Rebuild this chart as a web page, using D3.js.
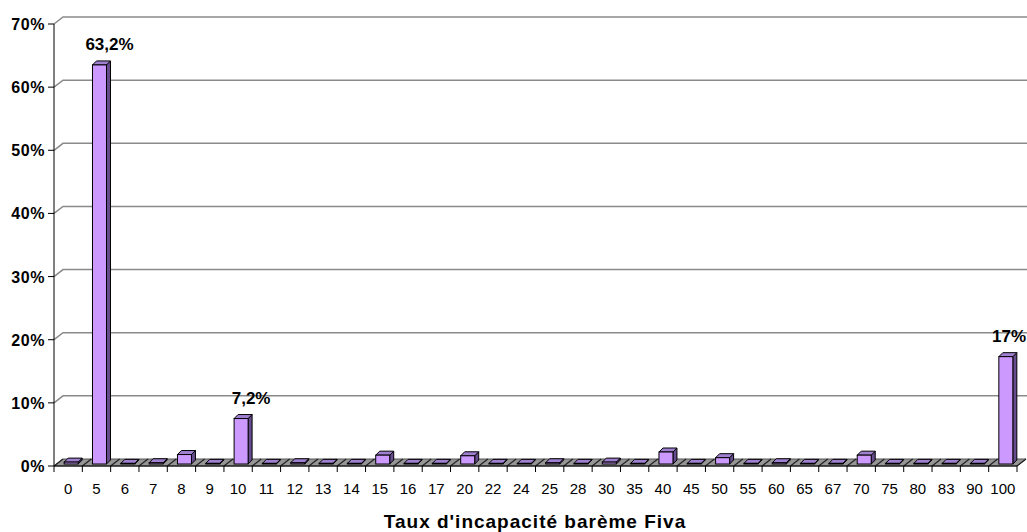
<!DOCTYPE html>
<html>
<head>
<meta charset="utf-8">
<script src="https://cdn.jsdelivr.net/npm/d3@7"></script>
<style>
  html, body { margin: 0; padding: 0; background: #fff; }
  svg { display: block; font-family: "Liberation Sans", Arial, sans-serif; }
</style>
</head>
<body>
<svg id="chart" width="1027" height="532"></svg>
<script>
// ---- data ----
const categories = ["0","5","6","7","8","9","10","11","12","13","14","15","16","17","20","22","24","25","28","30","35","40","45","50","55","60","65","67","70","75","80","83","90","100"];
const values =     [0.3, 63.2, 0.1, 0.2, 1.5, 0.1, 7.2, 0.1, 0.2, 0.1, 0.1, 1.4, 0.1, 0.1, 1.3, 0.1, 0.1, 0.2, 0.1, 0.3, 0.1, 1.9, 0.1, 1.0, 0.1, 0.2, 0.1, 0.1, 1.4, 0.1, 0.1, 0.1, 0.1, 17];
const labelled = { "5": "63,2%", "10": "7,2%", "100": "17%" };
const yTicks = [0, 10, 20, 30, 40, 50, 60, 70];
const xTitle = "Taux d'incapacité barème Fiva";

// ---- layout ----
const svg = d3.select("#chart");
const X0 = 54, X1 = 1017, Y0 = 466, Y1 = 24;
const DX = 9, DY = -7;        // wall/floor depth
const BDX = 4, BDY = -4;      // bar depth
const x = d3.scaleBand().domain(categories).range([X0, X1]).padding(0);
const y = d3.scaleLinear().domain([0, 70]).range([Y0, Y1]);

// gridlines (back wall)
const grid = svg.append("g");
yTicks.filter(t => t > 0).forEach(t => {
  grid.append("path")
    .attr("d", `M${X0},${y(t)} L${X0 + DX},${y(t) + DY} L1027,${y(t) + DY}`)
    .attr("fill", "none").attr("stroke", "#8a8a8a").attr("stroke-width", 1.5);
});

// floor
svg.append("path")
  .attr("d", `M${X0},${Y0} L${X1},${Y0} L${X1 + DX},${Y0 + DY} L${X0 + DX},${Y0 + DY} Z`)
  .attr("fill", "#969696").attr("stroke", "#555").attr("stroke-width", 1);

// floor diagonals at category boundaries
const bounds = categories.map(c => x(c)).concat([X1]);
svg.append("g").selectAll("line").data(bounds).join("line")
  .attr("x1", d => d).attr("y1", Y0).attr("x2", d => d + DX).attr("y2", Y0 + DY)
  .attr("stroke", "#222").attr("stroke-width", 1.2);

// bars
const bw = 14;
const bars = svg.append("g");
categories.forEach((c, i) => {
  const v = values[i];
  const cx = x(c) + x.bandwidth() / 2 + 3;
  const l = cx - bw / 2, r = cx + bw / 2;
  const b = Y0 - 2, t = Math.min(y(v) - 2, b - 0.6);
  bars.append("path")
    .attr("d", `M${r},${b} L${r + BDX},${b + BDY} L${r + BDX},${t + BDY} L${r},${t} Z`)
    .attr("fill", "#664c8c").attr("stroke", "#000").attr("stroke-width", 1).attr("stroke-linejoin", "round");
  bars.append("path")
    .attr("d", `M${l},${t} L${l + BDX},${t + BDY} L${r + BDX},${t + BDY} L${r},${t} Z`)
    .attr("fill", "#9f7fd0").attr("stroke", "#000").attr("stroke-width", 1).attr("stroke-linejoin", "round");
  bars.append("rect")
    .attr("x", l).attr("y", t).attr("width", bw).attr("height", b - t)
    .attr("fill", "#cc99ff").attr("stroke", "#000").attr("stroke-width", 1);
});

// y axis line and ticks
svg.append("line").attr("x1", X0).attr("y1", Y1).attr("x2", X0).attr("y2", Y0)
  .attr("stroke", "#000").attr("stroke-width", 1);
svg.append("g").selectAll("line").data(yTicks).join("line")
  .attr("x1", X0 - 6).attr("x2", X0).attr("y1", d => y(d)).attr("y2", d => y(d))
  .attr("stroke", "#000");
svg.append("g").selectAll("text").data(yTicks).join("text")
  .attr("x", 45).attr("y", d => y(d) + 6)
  .attr("text-anchor", "end").attr("font-size", "16px").attr("font-weight", "bold")
  .attr("letter-spacing", "0.6px")
  .text(d => d + "%");

// x axis front line and ticks
svg.append("line").attr("x1", X0).attr("y1", Y0).attr("x2", X1).attr("y2", Y0)
  .attr("stroke", "#000").attr("stroke-width", 1);
svg.append("g").selectAll("line").data(bounds).join("line")
  .attr("x1", d => d).attr("x2", d => d).attr("y1", Y0).attr("y2", Y0 + 6)
  .attr("stroke", "#000");
svg.append("g").selectAll("text").data(categories).join("text")
  .attr("x", d => x(d) + x.bandwidth() / 2).attr("y", 494)
  .attr("text-anchor", "middle").attr("font-size", "15px")
  .text(d => d);

// data labels
categories.forEach((c, i) => {
  if (!labelled[c]) return;
  const cx = x(c) + x.bandwidth() / 2 + 3;
  const txt = svg.append("text")
    .attr("x", cx + 10).attr("y", y(values[i]) - 17)
    .attr("text-anchor", "middle").attr("font-size", "17px").attr("font-weight", "bold")
    .text(labelled[c]);
  const bb = txt.node().getBBox();
  if (bb.x + bb.width > 1026) txt.attr("x", 1026 - bb.width / 2);
});

// axis title
svg.append("text").attr("x", 535).attr("y", 528)
  .attr("text-anchor", "middle").attr("font-size", "19px").attr("font-weight", "bold")
  .attr("letter-spacing", "1px")
  .text(xTitle);
</script>
</body>
</html>
